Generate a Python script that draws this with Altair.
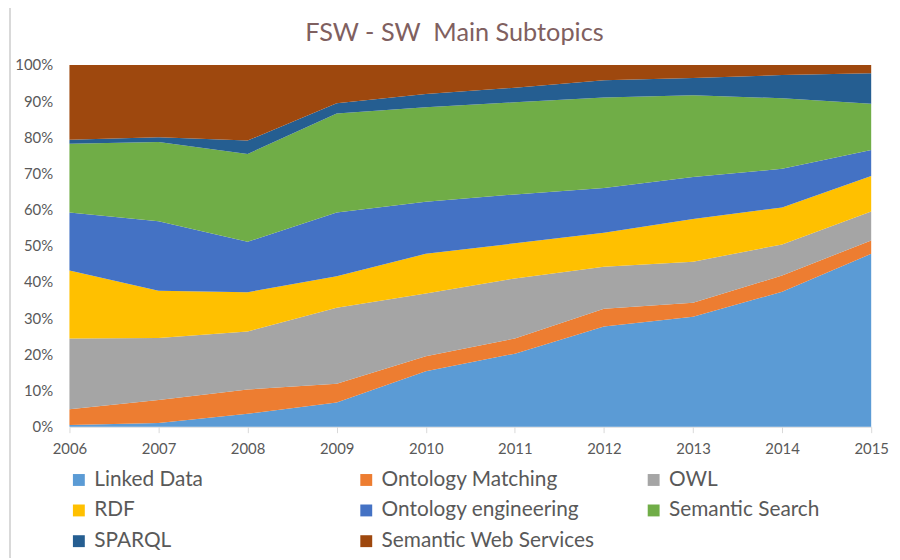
import altair as alt
import pandas as pd

years = [2006, 2007, 2008, 2009, 2010, 2011, 2012, 2013, 2014, 2015]
series = ["Linked Data", "Ontology Matching", "OWL", "RDF", "Ontology engineering",
          "Semantic Search", "SPARQL", "Semantic Web Services"]
colors = ["#5B9BD5", "#ED7D31", "#A5A5A5", "#FFC000", "#4472C4",
          "#70AD47", "#255E91", "#9E480E"]

linked_data = [0.5, 1.0, 3.6, 6.7, 15.3, 20.2, 27.7, 30.4, 37.3, 47.8]
ontology_matching = [4.3, 6.4, 6.7, 5.2, 4.2, 4.2, 4.9, 3.9, 4.5, 3.7]
owl = [19.6, 17.1, 16.0, 21.0, 17.3, 16.6, 11.6, 11.3, 8.6, 8.0]
rdf = [18.8, 13.1, 10.9, 8.7, 11.0, 9.7, 9.4, 11.8, 10.2, 9.8]
ontology_engineering = [16.0, 19.2, 13.9, 17.6, 14.4, 13.5, 12.4, 11.6, 10.7, 7.2]
semantic_search = [19.0, 21.9, 24.3, 27.4, 26.1, 25.5, 25.0, 22.6, 19.5, 12.8]
sparql = [1.1, 1.3, 3.7, 2.8, 3.7, 4.0, 4.8, 4.8, 6.4, 8.4]
semantic_web_services = [20.7, 20.0, 20.9, 10.6, 8.0, 6.3, 4.2, 3.6, 2.8, 2.3]

all_values = [linked_data, ontology_matching, owl, rdf, ontology_engineering,
              semantic_search, sparql, semantic_web_services]

rows = []
for i, (name, vals) in enumerate(zip(series, all_values)):
    for y, v in zip(years, vals):
        rows.append({"year": y, "topic": name, "value": v, "idx": i})
df = pd.DataFrame(rows)

FONT = "Lato"
GREY = "#595959"

area = alt.Chart(df).mark_area(interpolate="linear", opacity=1).encode(
    x=alt.X("year:Q", title=None,
            scale=alt.Scale(domain=[2006, 2015], nice=False, zero=False),
            axis=alt.Axis(values=years, format="d", labelFont=FONT, labelFontSize=15,
                          labelColor=GREY, domainColor="#d9d9d9", tickColor="#d9d9d9",
                          tickSize=6, labelPadding=9, grid=False, labelFlush=False)),
    y=alt.Y("value:Q", stack="normalize", title=None,
            scale=alt.Scale(domain=[0, 1]),
            axis=alt.Axis(format=".0%", values=[i / 10 for i in range(11)],
                          labelFont=FONT, labelFontSize=15, labelColor=GREY,
                          domain=False, ticks=False, grid=False, labelPadding=17)),
    color=alt.Color("topic:N", scale=alt.Scale(domain=series, range=colors),
                    legend=alt.Legend(title=None, orient="none", legendX=-1, legendY=408,
                                      direction="horizontal",
                                      columns=3, gridAlign="all", columnPadding=49,
                                      rowPadding=9, symbolType="square", symbolSize=144,
                                      symbolStrokeWidth=0, labelFont=FONT,
                                      labelFontSize=21, labelColor=GREY, labelLimit=400,
                                      labelOffset=5, padding=0)),
    order=alt.Order("idx:Q"),
)

frame = alt.Chart(df).mark_rule(color="#d9d9d9", strokeWidth=1).encode(
    x=alt.value(-60), y=alt.value(-63), y2=alt.value(497)
)

chart = alt.layer(frame, area).properties(
    width=809, height=365,
    title=alt.TitleParams("FSW - SW\u00a0 Main Subtopics", font=FONT, fontSize=25.5,
                          fontWeight="normal", color="#7F6060", anchor="middle",
                          frame="group", offset=-45, dx=-16),
    autosize=alt.AutoSizeParams(type="none"),
    padding={"left": 62, "top": 55, "right": 21, "bottom": 132},
).configure_view(stroke=None)

chart.save("out.html", embed_options={"renderer": "svg", "actions": False})
